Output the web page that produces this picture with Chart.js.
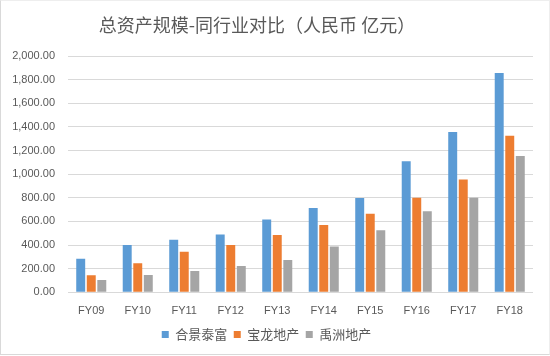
<!DOCTYPE html>
<html><head><meta charset="utf-8">
<script src="https://cdn.jsdelivr.net/npm/chart.js@4/dist/chart.umd.min.js"></script>
<style>
html,body{margin:0;padding:0;background:#fff;}
#wrap{position:absolute;left:0;top:0;width:548px;height:353px;border:1px solid #d9d9d9;border-top-color:#eee;border-right-color:#eee;}
canvas{position:absolute;left:0;top:0;}
</style></head>
<body>
<div id="wrap"></div>
<canvas id="c" width="550" height="356"></canvas>
<script>
const titleText = '总资产规模-同行业对比（人民币 亿元）';
const categories = ['FY09','FY10','FY11','FY12','FY13','FY14','FY15','FY16','FY17','FY18'];
const seriesNames = ['合景泰富','宝龙地产','禹洲地产'];
const kwgValues = [285, 400, 445, 490, 617, 714, 799, 1110, 1356, 1856];
const powerlongValues = [145, 245, 343, 400, 485, 570, 664, 800, 955, 1325];
const yuzhouValues = [105, 146, 180, 222, 273, 387, 525, 686, 800, 1153];
const yMax = 2000;
const yStep = 200;

const colors = ['#5B9BD5','#ED7D31','#A5A5A5'];

const titlePlugin = {
  id:'customTitle',
  afterDraw(chart){
    const ctx = chart.ctx;
    ctx.save();
    ctx.font = '18px "Noto Sans CJK SC"';
    ctx.fillStyle = '#595959';
    ctx.textAlign = 'center';
    ctx.textBaseline = 'middle';
    ctx.fillText(titleText, 257, 25);
    ctx.restore();
  }
};

new Chart(document.getElementById('c'), {
  type:'bar',
  data:{
    labels: categories,
    datasets:[
      {label: seriesNames[0], data: kwgValues, backgroundColor: colors[0]},
      {label: seriesNames[1], data: powerlongValues, backgroundColor: colors[1]},
      {label: seriesNames[2], data: yuzhouValues, backgroundColor: colors[2]}
    ]
  },
  options:{
    responsive:false,
    animation:false,
    devicePixelRatio:1,
    barPercentage:0.85,
    categoryPercentage:0.68,
    layout:{padding:{top:56,right:17,left:0,bottom:5}},
    plugins:{
      title:{display:false},
      tooltip:{enabled:false},
      legend:{
        position:'bottom',
        labels:{
          boxWidth:7, boxHeight:7,
          color:'#595959',
          padding:6.5,
          font:{size:13, family:'"Noto Sans CJK SC"'}
        }
      }
    },
    scales:{
      x:{
        grid:{display:false},
        border:{display:false},
        ticks:{color:'#595959', padding:4, font:{size:11, family:'"Liberation Sans"'}}
      },
      y:{
        min:0, max:yMax,
        afterFit(s){ s.width = 68; },
        grid:{color:'#d9d9d9', drawTicks:false},
        border:{display:false},
        ticks:{
          stepSize:yStep,
          color:'#595959',
          padding:13,
          font:{size:11, family:'"Liberation Sans"'},
          callback:(v)=> v.toLocaleString('en-US',{minimumFractionDigits:2, maximumFractionDigits:2})
        }
      }
    }
  },
  plugins:[titlePlugin]
});
</script>
</body></html>
